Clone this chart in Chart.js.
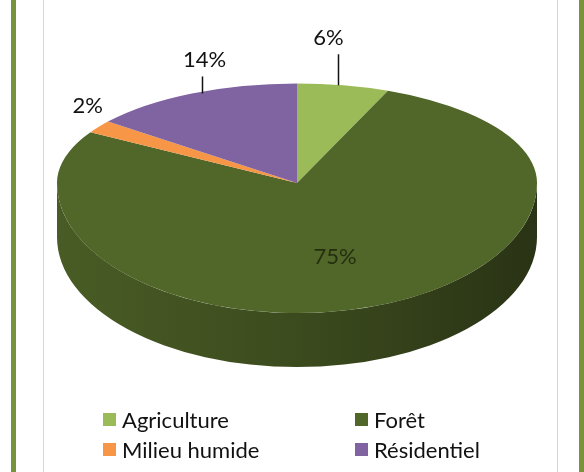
<!DOCTYPE html>
<html lang="fr">
<head>
<meta charset="utf-8">
<script src="https://cdn.jsdelivr.net/npm/chart.js@4.4.1/dist/chart.umd.min.js"></script>
<style>
  html,body{margin:0;padding:0;background:#fff;}
  #wrap{position:relative;width:584px;height:472px;overflow:hidden;background:#fff;font-family:Lato,"Open Sans",sans-serif;}
  .band{position:absolute;top:0;bottom:0;background:#77933c;}
  .rule{position:absolute;top:0;bottom:0;width:1px;background:#d6d6d6;}
  #chart{position:absolute;left:0;top:0;}
  #legend{position:absolute;left:103px;top:406px;display:grid;grid-template-columns:252px auto;row-gap:3px;font-size:22px;color:#111;}
  #legend .it{display:flex;align-items:center;height:27px;}
  #legend .sw{width:13px;height:13px;margin-right:6px;}
</style>
</head>
<body>
<div id="wrap">
  <div class="band" style="left:11px;width:5px"></div>
  <div class="band" style="left:579px;width:5px"></div>
  <div class="rule" style="left:43px"></div>
  <div class="rule" style="left:557px"></div>
  <canvas id="chart" width="584" height="472"></canvas>
  <div id="legend"></div>
</div>
<script>
// occupation du sol (%)
var CATEGORIES = ["Agriculture", "Forêt", "Milieu humide", "Résidentiel"];
var PERCENTS = [6, 75, 2, 14];
var COLORS = ["#9bbb59", "#516629", "#f79646", "#8064a2"];

// pseudo-perspective: back half squashed more than front half
var TILT_BACK = 0.415, TILT_FRONT = 0.542, DEPTH = 54;

// where each value label goes
var LABEL_SPOTS = [
  { mode: "lead", len: 31, dx: -5, tx: -10 },
  { mode: "inside", f: 0.55, dx: -4, dy: 6 },
  { mode: "float", dx: -11, dy: -14 },
  { mode: "lead", len: 17, dx: 10, tx: 2 }
];

function shade(hex, k){
  var n = parseInt(hex.slice(1), 16);
  var r = Math.round(((n >> 16) & 255) * k), g = Math.round(((n >> 8) & 255) * k), b = Math.round((n & 255) * k);
  return "rgb(" + r + "," + g + "," + b + ")";
}

// parts of [s,e] that fall on the front half (0..PI)
function frontSpans(s, e){
  var out = [];
  [-2, 0, 2].forEach(function(t){
    var a = Math.max(s + t * Math.PI, 0), b = Math.min(e + t * Math.PI, Math.PI);
    if (b > a) out.push([a, b]);
  });
  return out;
}

function proj(cx, cy, r, ang, f){
  var sy = Math.sin(ang);
  return { x: cx + r * f * Math.cos(ang), y: cy + r * f * sy * (sy < 0 ? TILT_BACK : TILT_FRONT) };
}

var pie3d = {
  id: "pie3d",
  beforeDatasetsDraw: function(chart){
    var ctx = chart.ctx, arcs = chart.getDatasetMeta(0).data;
    if (!arcs.length) return;
    var cx = arcs[0].x, cy = arcs[0].y, r = arcs[0].outerRadius;

    // side wall
    arcs.forEach(function(a){
      frontSpans(a.startAngle, a.endAngle).forEach(function(s){
        var base = a.options.backgroundColor;
        var g = ctx.createLinearGradient(cx - r, 0, cx + r, 0);
        g.addColorStop(0, shade(base, 0.9));
        g.addColorStop(0.5, shade(base, 0.74));
        g.addColorStop(1, shade(base, 0.5));
        ctx.save();
        ctx.beginPath();
        ctx.ellipse(cx, cy, r, r * TILT_FRONT, 0, s[0], s[1]);
        ctx.ellipse(cx, cy + DEPTH, r, r * TILT_FRONT, 0, s[1], s[0], true);
        ctx.closePath();
        ctx.fillStyle = g;
        ctx.fill();
        ctx.restore();
      });
    });

    // top face, drawn in two halves
    [[TILT_BACK, 0, cy + 0.5], [TILT_FRONT, cy - 0.5, chart.height]].forEach(function(p){
      ctx.save();
      ctx.beginPath();
      ctx.rect(0, p[1], chart.width, p[2] - p[1]);
      ctx.clip();
      ctx.translate(cx, cy);
      ctx.scale(1, p[0]);
      ctx.translate(-cx, -cy);
      arcs.forEach(function(a){ a.draw(ctx); });
      ctx.restore();
    });
    return false;
  },
  afterDraw: function(chart){
    var ctx = chart.ctx, arcs = chart.getDatasetMeta(0).data;
    if (!arcs.length) return;
    var cx = arcs[0].x, cy = arcs[0].y, r = arcs[0].outerRadius;
    ctx.save();
    ctx.font = "22px Lato, 'Open Sans', sans-serif";
    ctx.textAlign = "center";
    arcs.forEach(function(a, i){
      var txt = PERCENTS[i] + "%";
      var mid = (a.startAngle + a.endAngle) / 2;
      var spot = LABEL_SPOTS[i];
      if (spot.mode === "inside"){
        var q = proj(cx, cy, r, mid, spot.f);
        ctx.fillStyle = "rgba(25,32,8,0.8)";
        ctx.textBaseline = "middle";
        ctx.fillText(txt, q.x + spot.dx, q.y + spot.dy);
        return;
      }
      var e = proj(cx, cy, r, mid, 1);
      ctx.fillStyle = "#111";
      ctx.textBaseline = "alphabetic";
      if (spot.mode === "lead"){
        var lx = Math.round(e.x + spot.dx) + 0.5;
        ctx.strokeStyle = "#111";
        ctx.lineWidth = 1.5;
        ctx.beginPath();
        ctx.moveTo(lx, e.y);
        ctx.lineTo(lx, e.y - spot.len);
        ctx.stroke();
        ctx.fillText(txt, lx + spot.tx, e.y - spot.len - 9);
      } else {
        ctx.fillText(txt, e.x + spot.dx, e.y + spot.dy);
      }
    });
    ctx.restore();
  }
};

new Chart(document.getElementById("chart"), {
  type: "pie",
  data: {
    labels: CATEGORIES,
    datasets: [{
      data: PERCENTS,
      backgroundColor: COLORS,
      borderWidth: 0,
      radius: 240
    }]
  },
  options: {
    responsive: false,
    animation: false,
    layout: { padding: { left: 10, right: 0, top: 0, bottom: 106 } },
    plugins: { legend: { display: false }, tooltip: { enabled: false } }
  },
  plugins: [pie3d]
});

// legend in two columns
var leg = document.getElementById("legend");
[0, 1, 2, 3].forEach(function(i){
  var it = document.createElement("div");
  it.className = "it";
  var sw = document.createElement("span");
  sw.className = "sw";
  sw.style.background = COLORS[i];
  it.appendChild(sw);
  it.appendChild(document.createTextNode(CATEGORIES[i]));
  leg.appendChild(it);
});
</script>
</body>
</html>
